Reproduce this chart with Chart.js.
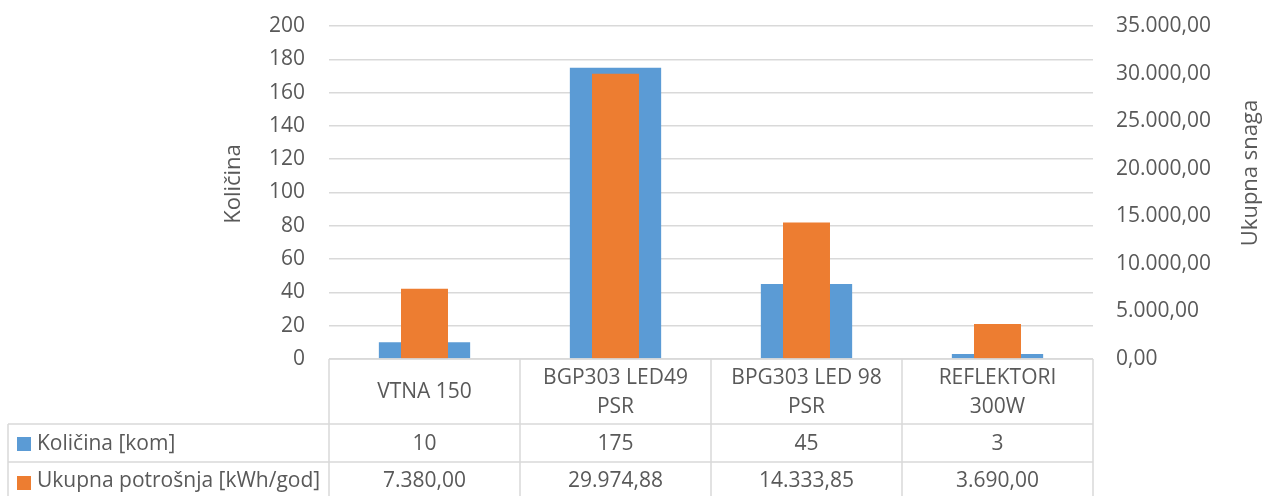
<!DOCTYPE html>
<html>
<head>
<meta charset="utf-8">
<script src="https://cdn.jsdelivr.net/npm/chart.js@4"></script>
<style>
  html, body { margin: 0; padding: 0; background: #fff; }
  #wrap { width: 1266px; height: 496px; }
</style>
</head>
<body>
<div id="wrap"><canvas id="chart" width="1266" height="496"></canvas></div>
<script>
// podaci
const kategorije = [['VTNA 150'], ['BGP303 LED49', 'PSR'], ['BPG303 LED 98', 'PSR'], ['REFLEKTORI', '300W']];
const kolicina = [10, 175, 45, 3];
const potrosnja = [7380.00, 29974.88, 14333.85, 3690.00];
const nazivKolicina = 'Količina [kom]';
const nazivPotrosnja = 'Ukupna potrošnja [kWh/god]';
const naslovLijevo = 'Količina';
const naslovDesno = 'Ukupna snaga';

const PLAVA = '#5b9bd5';
const NARANCASTA = '#ed7d31';
const TEKST = '#595959';
const MREZA = '#d9d9d9';
const FONT = "'Open Sans', sans-serif";
const FS = 21;

// 29974.88 -> 29.974,88
function fmt(v) {
    const [i, d] = v.toFixed(2).split('.');
    return i.replace(/\B(?=(\d{3})+(?!\d))/g, '.') + ',' + d;
}

const tablicaPlugin = {
    id: 'tablica',
    afterDraw(chart) {
        const { ctx, chartArea } = chart;
        const { left, right, bottom } = chartArea;
        const xs = chart.scales.x;
        const n = kategorije.length;
        const sirina = (right - left) / n;
        const red1 = 424, red2 = 462, kraj = 496;

        ctx.save();
        ctx.strokeStyle = MREZA;
        ctx.lineWidth = 1.5;
        ctx.beginPath();
        ctx.moveTo(left, bottom); ctx.lineTo(right, bottom);
        ctx.moveTo(8, red1); ctx.lineTo(right, red1);
        ctx.moveTo(8, red2); ctx.lineTo(right, red2);
        ctx.moveTo(8, red1); ctx.lineTo(8, kraj);
        for (let i = 0; i <= n; i++) {
            const xx = left + i * sirina;
            ctx.moveTo(xx, bottom); ctx.lineTo(xx, kraj);
        }
        ctx.stroke();

        ctx.fillStyle = TEKST;
        ctx.font = FS + 'px ' + FONT;
        ctx.textAlign = 'center';
        ctx.textBaseline = 'middle';
        kategorije.forEach((lab, i) => {
            const cx = xs.getPixelForValue(i);
            const mid = (bottom + red1) / 2 + 1;
            const lh = 29;
            lab.forEach((line, j) => {
                ctx.fillText(line, cx, mid + (j - (lab.length - 1) / 2) * lh);
            });
            ctx.fillText(String(kolicina[i]), cx, (red1 + red2) / 2 + 1);
            ctx.fillText(fmt(potrosnja[i]), cx, (red2 + kraj) / 2 + 2);
        });

        // legenda u tablici
        ctx.textAlign = 'left';
        ctx.fillStyle = PLAVA;
        ctx.fillRect(17, 437, 14, 14);
        ctx.fillStyle = NARANCASTA;
        ctx.fillRect(17, 476, 14, 14);
        ctx.fillStyle = TEKST;
        ctx.fillText(nazivKolicina, 37, (red1 + red2) / 2 + 1);
        ctx.fillText(nazivPotrosnja, 37, (red2 + kraj) / 2 + 2);

        // naslovi osi
        ctx.font = '22px ' + FONT;
        ctx.textAlign = 'center';
        ctx.save();
        ctx.translate(234, 184);
        ctx.rotate(-Math.PI / 2);
        ctx.fillText(naslovLijevo, 0, 0);
        ctx.restore();
        ctx.save();
        ctx.translate(1251, 173);
        ctx.rotate(-Math.PI / 2);
        ctx.fillText(naslovDesno, 0, 0);
        ctx.restore();
        ctx.restore();
    }
};

new Chart(document.getElementById('chart').getContext('2d'), {
    type: 'bar',
    data: {
        labels: kategorije,
        datasets: [
            {
                label: nazivPotrosnja,
                data: potrosnja,
                yAxisID: 'y1',
                backgroundColor: NARANCASTA,
                grouped: false,
                categoryPercentage: 1,
                barPercentage: 0.246,
                order: 1
            },
            {
                label: nazivKolicina,
                data: kolicina,
                yAxisID: 'y',
                backgroundColor: PLAVA,
                grouped: false,
                categoryPercentage: 1,
                barPercentage: 0.478,
                order: 2
            }
        ]
    },
    options: {
        responsive: false,
        animation: false,
        layout: { padding: { top: 26, bottom: 137, left: 0, right: 0 } },
        plugins: {
            legend: { display: false },
            tooltip: { enabled: false }
        },
        scales: {
            x: { display: false },
            y: {
                position: 'left',
                min: 0, max: 200,
                ticks: { stepSize: 20, color: TEKST, font: { family: FONT, size: FS }, padding: 24 },
                grid: { color: MREZA, lineWidth: 1.5, drawTicks: false },
                border: { display: false },
                afterFit(s) { s.width = 329; s.paddingTop = 0; s.paddingBottom = 0; }
            },
            y1: {
                position: 'right',
                min: 0, max: 35000,
                ticks: { stepSize: 5000, color: TEKST, font: { family: FONT, size: FS }, padding: 23, callback: v => fmt(v) },
                grid: { drawOnChartArea: false, drawTicks: false },
                border: { display: false },
                afterFit(s) { s.width = 173; s.paddingTop = 0; s.paddingBottom = 0; }
            }
        }
    },
    plugins: [tablicaPlugin]
});
</script>
</body>
</html>
